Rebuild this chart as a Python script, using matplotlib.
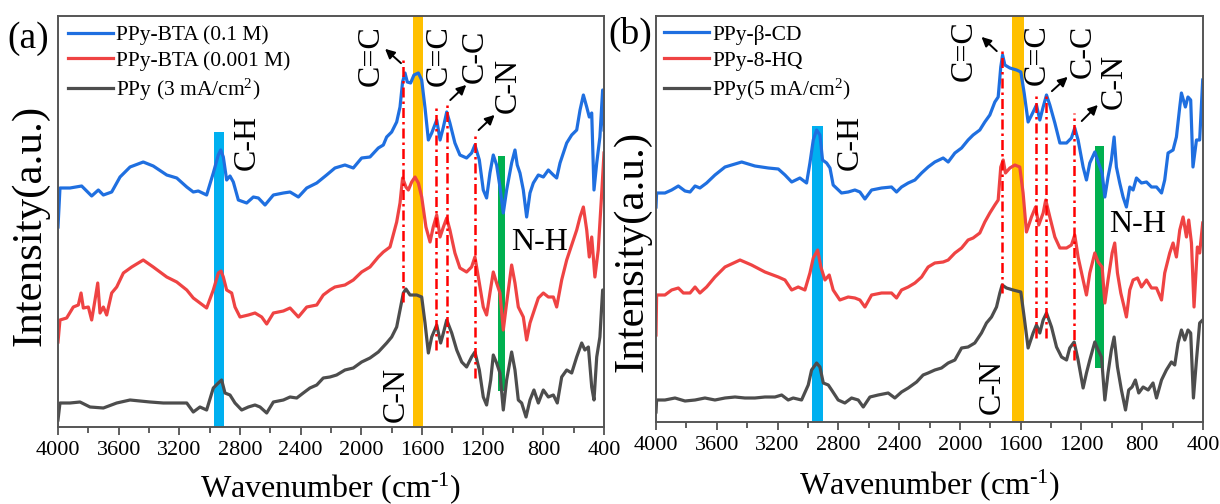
import matplotlib
matplotlib.use("Agg")
import matplotlib.pyplot as plt
from matplotlib.ticker import MultipleLocator

# ---- panel (a): PPy-BTA films ----
A_BLUE_WN = [4000, 3987, 3921, 3844, 3778, 3734, 3701, 3646, 3591, 3525, 3438, 3372, 3283, 3217, 3151,
             3108, 3075, 3020, 2976, 2943, 2927, 2910, 2888, 2866, 2844, 2811, 2756, 2712, 2679, 2635,
             2580, 2514, 2470, 2415, 2360, 2294, 2229, 2174, 2108, 2053, 1998, 1943, 1888, 1855, 1833,
             1800, 1767, 1745, 1728, 1712, 1697, 1675, 1653, 1624, 1602, 1580, 1558, 1536, 1503, 1481,
             1459, 1437, 1416, 1383, 1350, 1306, 1273, 1251, 1222, 1196, 1174, 1152, 1130, 1108, 1086,
             1064, 1042, 1009, 987, 972, 954, 932, 910, 888, 866, 833, 800, 767, 734, 712,
             690, 646, 613, 580, 558, 536, 514, 497, 481, 466, 448, 427, 409, 400]
A_BLUE = [200, 239, 239, 241, 231, 237, 232, 235, 250, 260, 265, 261, 252, 249, 240,
          235, 236, 232, 254, 272, 277, 270, 247, 251, 245, 227, 224, 230, 229, 222,
          232, 234, 235, 230, 239, 244, 252, 259, 262, 259, 269, 270, 279, 282, 290,
          295, 305, 320, 345, 354, 345, 344, 352, 354, 347, 319, 287, 294, 307, 287,
          300, 315, 304, 284, 272, 269, 274, 282, 267, 237, 229, 254, 272, 262, 240,
          214, 237, 264, 277, 262, 254, 237, 210, 234, 244, 252, 250, 257, 252, 249,
          264, 284, 292, 297, 317, 332, 320, 310, 314, 237, 264, 290, 337, 297]

A_RED_WN = [4000, 3987, 3943, 3899, 3866, 3848, 3833, 3800, 3778, 3756, 3738, 3723, 3701, 3679, 3646,
            3613, 3569, 3514, 3438, 3372, 3283, 3217, 3151, 3108, 3064, 3020, 2976, 2943, 2925, 2910,
            2888, 2855, 2833, 2800, 2745, 2701, 2657, 2624, 2580, 2514, 2470, 2415, 2360, 2294, 2251,
            2207, 2174, 2108, 2053, 1998, 1943, 1888, 1855, 1811, 1767, 1745, 1728, 1706, 1690, 1668,
            1646, 1624, 1602, 1574, 1547, 1526, 1503, 1481, 1459, 1437, 1416, 1383, 1350, 1306, 1273,
            1251, 1222, 1196, 1174, 1152, 1130, 1108, 1086, 1064, 1042, 1009, 987, 965, 932, 910,
            888, 866, 833, 800, 767, 734, 712, 679, 646, 613, 580, 558, 536, 514, 497,
            481, 460, 438, 415, 400]
A_RED = [85, 107, 109, 120, 122, 134, 119, 120, 107, 127, 144, 114, 120, 112, 134,
         140, 154, 160, 167, 160, 150, 145, 137, 129, 124, 119, 137, 154, 156, 150,
         137, 134, 120, 110, 112, 114, 110, 103, 114, 116, 119, 110, 120, 122, 132,
         137, 140, 142, 147, 155, 160, 170, 175, 180, 205, 224, 249, 240, 237, 245,
         250, 244, 230, 200, 185, 200, 212, 190, 200, 209, 197, 174, 159, 155, 160,
         170, 144, 120, 112, 134, 155, 144, 134, 97, 124, 162, 144, 120, 110, 87,
         104, 114, 129, 134, 130, 130, 120, 147, 167, 182, 197, 210, 220, 197, 170,
         190, 150, 177, 234, 274]

A_GRAY_WN = [4000, 3987, 3921, 3855, 3789, 3701, 3613, 3525, 3459, 3393, 3306, 3217, 3151, 3108, 3064,
             3020, 2976, 2943, 2921, 2899, 2866, 2833, 2789, 2745, 2701, 2668, 2624, 2580, 2514, 2470,
             2426, 2383, 2339, 2294, 2251, 2207, 2163, 2108, 2053, 1998, 1943, 1888, 1833, 1800, 1767,
             1745, 1723, 1706, 1679, 1635, 1602, 1580, 1558, 1536, 1503, 1477, 1459, 1437, 1404, 1371,
             1338, 1306, 1273, 1251, 1222, 1196, 1174, 1147, 1130, 1108, 1086, 1064, 1042, 1009, 987,
             965, 943, 914, 888, 862, 833, 800, 767, 734, 708, 679, 646, 613, 580, 547,
             526, 503, 481, 466, 448, 427, 409, 400]
A_GRAY = [7, 24, 24, 25, 20, 19, 24, 27, 26, 25, 24, 24, 24, 15, 20,
          17, 39, 44, 47, 34, 32, 24, 17, 20, 22, 20, 14, 25, 27, 30,
          29, 34, 39, 42, 49, 50, 52, 57, 59, 65, 69, 75, 84, 90, 100,
          117, 134, 138, 132, 132, 130, 104, 74, 90, 102, 84, 94, 107, 94, 77,
          65, 60, 70, 75, 57, 30, 22, 47, 72, 64, 54, 17, 47, 75, 57,
          27, 24, 10, 27, 37, 24, 37, 30, 32, 24, 50, 57, 54, 70, 84,
          77, 80, 40, 27, 70, 90, 137, 137]

# ---- panel (b): PPy with beta-CD / 8-HQ ----
B_BLUE_WN = [4000, 3996, 3941, 3897, 3853, 3809, 3776, 3743, 3711, 3667, 3612, 3546, 3436, 3349, 3261,
             3195, 3151, 3107, 3053, 3009, 2987, 2965, 2943, 2921, 2904, 2877, 2855, 2834, 2779, 2735,
             2691, 2658, 2625, 2581, 2515, 2450, 2417, 2384, 2340, 2296, 2252, 2209, 2165, 2110, 2077,
             2033, 1989, 1946, 1913, 1869, 1836, 1803, 1770, 1748, 1731, 1719, 1704, 1671, 1627, 1599,
             1577, 1551, 1518, 1496, 1474, 1452, 1430, 1408, 1375, 1342, 1298, 1266, 1244, 1222, 1189,
             1167, 1145, 1112, 1090, 1064, 1046, 1025, 1003, 985, 970, 948, 926, 904, 882, 860,
             838, 805, 772, 739, 706, 673, 652, 630, 597, 575, 553, 542, 516, 499, 481,
             466, 443, 422, 402]
B_BLUE = [215, 229, 229, 232, 236, 231, 230, 236, 234, 239, 247, 255, 260, 256, 254,
          253, 247, 240, 244, 239, 259, 282, 292, 287, 262, 259, 254, 237, 229, 230,
          232, 230, 223, 232, 234, 235, 230, 235, 239, 242, 249, 255, 260, 264, 260,
          269, 274, 282, 287, 292, 300, 307, 320, 325, 355, 367, 357, 354, 352, 350,
          329, 300, 310, 317, 302, 315, 327, 317, 299, 279, 279, 284, 294, 282, 255,
          242, 259, 270, 260, 249, 225, 245, 262, 285, 255, 239, 225, 215, 235, 232,
          244, 239, 240, 235, 235, 229, 242, 269, 272, 285, 315, 329, 315, 325, 322,
          255, 282, 282, 342]

B_RED_WN = [4000, 3996, 3941, 3897, 3853, 3820, 3776, 3743, 3711, 3667, 3612, 3546, 3447, 3371, 3283,
            3195, 3151, 3107, 3064, 3020, 2987, 2965, 2936, 2915, 2888, 2860, 2834, 2790, 2735, 2691,
            2658, 2625, 2581, 2515, 2450, 2417, 2384, 2340, 2296, 2252, 2231, 2209, 2165, 2110, 2077,
            2033, 1989, 1946, 1913, 1869, 1836, 1803, 1770, 1748, 1731, 1715, 1700, 1671, 1638, 1606,
            1584, 1562, 1529, 1502, 1481, 1452, 1435, 1408, 1375, 1342, 1298, 1266, 1244, 1222, 1189,
            1167, 1145, 1112, 1090, 1064, 1046, 1025, 998, 981, 963, 941, 919, 904, 882, 860,
            831, 805, 772, 739, 706, 673, 652, 619, 597, 575, 553, 531, 509, 494, 476,
            459, 437, 422, 402]
B_RED = [87, 127, 127, 132, 134, 129, 129, 135, 129, 135, 145, 155, 162, 157, 150,
         145, 142, 132, 135, 132, 149, 164, 172, 155, 142, 147, 132, 122, 125, 124,
         122, 115, 127, 129, 129, 124, 132, 135, 139, 145, 150, 155, 159, 160, 162,
         169, 174, 182, 184, 189, 200, 209, 217, 222, 255, 262, 249, 254, 257, 255,
         229, 190, 205, 215, 197, 209, 222, 205, 185, 174, 174, 177, 187, 165, 142,
         127, 149, 169, 160, 155, 119, 142, 169, 179, 149, 129, 115, 105, 132, 142,
         144, 135, 142, 134, 134, 122, 149, 169, 179, 165, 192, 205, 185, 202, 179,
         115, 175, 169, 199]

B_GRAY_WN = [4000, 3996, 3941, 3875, 3809, 3743, 3678, 3612, 3546, 3480, 3415, 3349, 3283, 3217, 3173,
             3130, 3097, 3042, 2998, 2976, 2943, 2921, 2899, 2866, 2844, 2801, 2757, 2713, 2669, 2636,
             2592, 2538, 2472, 2428, 2384, 2340, 2285, 2242, 2209, 2165, 2121, 2077, 2033, 1989, 1946,
             1902, 1858, 1825, 1792, 1759, 1737, 1722, 1693, 1650, 1599, 1577, 1551, 1518, 1496, 1474,
             1452, 1430, 1397, 1364, 1331, 1298, 1277, 1248, 1222, 1189, 1167, 1145, 1112, 1090, 1068,
             1046, 1025, 1003, 985, 963, 937, 910, 889, 867, 845, 823, 794, 761, 729, 706,
             673, 641, 608, 586, 564, 542, 520, 499, 481, 463, 443, 422, 402]
B_GRAY = [10, 22, 22, 24, 21, 22, 24, 22, 24, 25, 24, 24, 25, 25, 27,
          22, 24, 22, 37, 52, 59, 55, 39, 37, 32, 22, 19, 24, 22, 15,
          25, 27, 29, 24, 30, 34, 40, 47, 49, 52, 54, 59, 62, 74, 75,
          79, 89, 99, 105, 115, 129, 137, 134, 132, 130, 105, 74, 89, 97, 89,
          102, 109, 95, 75, 65, 62, 74, 80, 62, 34, 49, 62, 80, 72, 65,
          22, 49, 72, 85, 55, 32, 12, 32, 35, 42, 29, 35, 32, 39, 24,
          42, 52, 60, 57, 79, 92, 82, 92, 89, 24, 62, 99, 102]

A_LABELS = ["PPy-BTA (0.1 M)", "PPy-BTA (0.001 M)", r"PPy (3 mA/cm$^{2}$)"]
B_LABELS = ["PPy-β-CD", "PPy-8-HQ", r"PPy(5 mA/cm$^{2}$)"]

# marked peak positions (cm-1) and their vertical extents
A_PEAK_LINES = [(1723, 125, 370), (1508, 77, 322), (1435, 80, 325), (1249, 49, 295)]
B_PEAK_LINES = [(1722, 129, 375), (1496, 84, 330), (1430, 84, 330), (1248, 62, 309)]

BLUE = "#1F6FE0"
RED = "#EF4343"
GRAY = "#4D4D4D"


def draw_panel(ax, curves, labels, ylim, bands, peak_lines, notes, arrows, legend_x):
    # highlighted regions: C-H stretch, C=C ring band, N-H
    for (x0, x1, y0, y1, color) in bands:
        ax.fill_betweenx([y0, y1], x0, x1, color=color, lw=0, zorder=1)

    for (wn, vals), color, lab in zip(curves, [BLUE, RED, GRAY], labels):
        ax.plot(wn, vals, color=color, lw=2.3, label=lab, zorder=2, solid_joinstyle="round")

    for (x, y0, y1) in peak_lines:
        ax.vlines(x, y0, y1, colors="#FF0000", lw=1.8, linestyles=(0, (4, 1.6, 1, 1.6)), zorder=3)

    for (txt, x, y, rot) in notes:
        ax.text(x, y, txt, rotation=rot, ha="center", va="center", fontsize=23, zorder=4)

    for (tail, head) in arrows:
        ax.annotate("", xy=head, xytext=tail,
                    arrowprops=dict(arrowstyle="-|>", color="black", lw=1.4, mutation_scale=14))

    ax.set_xlim(4000, 400)
    ax.set_ylim(*ylim)
    ax.xaxis.set_major_locator(MultipleLocator(400))
    ax.xaxis.set_minor_locator(MultipleLocator(200))
    ax.set_yticks([])
    ax.tick_params(axis="x", which="both", direction="out", top=False, width=1.2,
                   colors="#444444", labelcolor="black", labelsize=16, pad=4)
    ax.tick_params(axis="x", which="major", length=6)
    ax.tick_params(axis="x", which="minor", length=4)
    for sp in ax.spines.values():
        sp.set_color("#555555")
        sp.set_linewidth(1.4)

    ax.legend(loc="upper left", bbox_to_anchor=(legend_x, 0.978), frameon=False, fontsize=15.5,
              handlelength=2.1, handletextpad=0.12, labelspacing=0.27, borderaxespad=0, borderpad=0)


def main():
    plt.rcParams["font.family"] = ["Liberation Serif", "DejaVu Serif"]
    plt.rcParams["mathtext.fontset"] = "custom"
    plt.rcParams["mathtext.rm"] = "Liberation Serif"
    plt.rcParams["mathtext.it"] = "Liberation Serif:italic"

    fig = plt.figure(figsize=(12.2, 5.04), dpi=100)
    ax_a = fig.add_axes([58 / 1220, 77 / 504, 546 / 1220, 411 / 504])
    ax_b = fig.add_axes([656 / 1220, 82 / 504, 547 / 1220, 406 / 504])

    draw_panel(
        ax_a,
        [(A_BLUE_WN, A_BLUE), (A_RED_WN, A_RED), (A_GRAY_WN, A_GRAY)],
        A_LABELS, (0, 411),
        bands=[(2971, 2906, 0, 295, "#00B0F0"), (1661, 1592, 0, 411, "#FFC000"),
               (1101, 1051, 36, 271, "#00B050")],
        peak_lines=A_PEAK_LINES,
        notes=[("C=C", 1936, 371, 90), ("C=C", 1488, 371, 90), ("C-C", 1251, 371, 90),
               ("C-N", 1030, 342, 90), ("C-H", 2755, 285, 90), ("N-H", 822, 184, 0),
               ("C-N", 1770, 33, 90)],
        arrows=[((1725, 362), (1857, 380)), ((1427, 325), (1295, 344)), ((1240, 295), (1108, 314))],
        legend_x=0.018,
    )
    draw_panel(
        ax_b,
        [(B_BLUE_WN, B_BLUE), (B_RED_WN, B_RED), (B_GRAY_WN, B_GRAY)],
        B_LABELS, (0, 406),
        bands=[(2976, 2903, 0, 296, "#00B0F0"), (1656, 1581, 0, 406, "#FFC000"),
               (1108, 1053, 54, 276, "#00B050")],
        peak_lines=B_PEAK_LINES,
        notes=[("C=C", 1974, 371, 90), ("C=C", 1492, 367, 90), ("C-C", 1191, 371, 90),
               ("C-N", 987, 341, 90), ("C-H", 2724, 280, 90), ("N-H", 829, 197, 0),
               ("C-N", 1786, 36, 90)],
        arrows=[((1744, 369), (1871, 387)), ((1408, 329), (1277, 347)), ((1211, 299), (1079, 319))],
        legend_x=0.015,
    )

    for ax, lx, ly, bx, by in [(ax_a, -0.051, 0.49, 0.5, -0.148), (ax_b, -0.044, 0.42, 0.5, -0.155)]:
        ax.set_ylabel("Intensity(a.u.)", fontsize=31, ha="center", va="center", rotation_mode="default")
        ax.yaxis.set_label_coords(lx, ly)
        ax.set_xlabel(r"Wavenumber (cm$^{\text{-1}}$)", fontsize=23, va="center")
        ax.xaxis.set_label_coords(bx, by)

    fig.text(28 / 1220, 1 - 39 / 504, "(a)", fontsize=27, ha="center", va="center")
    fig.text(630 / 1220, 1 - 34 / 504, "(b)", fontsize=27, ha="center", va="center")

    fig.savefig("out.png", dpi=100)
    plt.close(fig)


if __name__ == "__main__":
    main()
